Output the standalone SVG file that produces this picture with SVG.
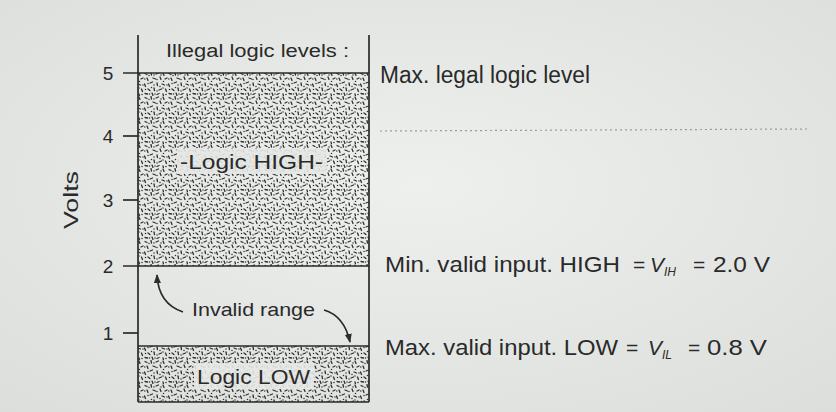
<svg xmlns="http://www.w3.org/2000/svg" width="836" height="412" viewBox="0 0 836 412">
<defs>
<radialGradient id="paper" cx="0.5" cy="0.45" r="0.75">
<stop offset="0" stop-color="#eef0ee"/>
<stop offset="1" stop-color="#dcdedc"/>
</radialGradient>
<pattern id="stip" width="24" height="24" patternUnits="userSpaceOnUse">
<g stroke="#2f2f2f" stroke-width="1.3" stroke-linecap="round">
<line x1="1" y1="1.5" x2="3" y2="2.5"/>
<line x1="7" y1="0.5" x2="7.5" y2="3"/>
<line x1="12" y1="2" x2="14.5" y2="1"/>
<line x1="19" y1="1" x2="20" y2="3.5"/>
<line x1="3" y1="6" x2="4" y2="8.5"/>
<line x1="9" y1="6" x2="11.5" y2="7"/>
<line x1="16" y1="5" x2="17" y2="7.5"/>
<line x1="21" y1="7" x2="23" y2="6"/>
<line x1="0.5" y1="12" x2="1.5" y2="14.5"/>
<line x1="6" y1="11" x2="8.5" y2="10"/>
<line x1="13" y1="11" x2="13.5" y2="13.5"/>
<line x1="18" y1="12" x2="20.5" y2="13"/>
<line x1="4" y1="17" x2="6" y2="18.5"/>
<line x1="10" y1="16" x2="10.5" y2="18.5"/>
<line x1="15" y1="18" x2="17.5" y2="17"/>
<line x1="21.5" y1="17" x2="22.5" y2="19.5"/>
<line x1="1" y1="21.5" x2="3.5" y2="22"/>
<line x1="8" y1="21" x2="9" y2="23.5"/>
<line x1="13" y1="22.5" x2="15" y2="21.5"/>
<line x1="19" y1="22" x2="19.5" y2="23.8"/>
</g>
<g fill="#2f2f2f">
<circle cx="5" cy="3.5" r="0.75"/>
<circle cx="10" cy="3" r="0.75"/>
<circle cx="17" cy="3" r="0.75"/>
<circle cx="0.8" cy="7" r="0.75"/>
<circle cx="13" cy="7.5" r="0.75"/>
<circle cx="19.5" cy="9.5" r="0.75"/>
<circle cx="4" cy="11.5" r="0.75"/>
<circle cx="10" cy="13" r="0.75"/>
<circle cx="16" cy="14.5" r="0.75"/>
<circle cx="23" cy="13" r="0.75"/>
<circle cx="1.5" cy="17.5" r="0.75"/>
<circle cx="7.5" cy="15.5" r="0.75"/>
<circle cx="13" cy="19" r="0.75"/>
<circle cx="19" cy="16" r="0.75"/>
<circle cx="5.5" cy="22" r="0.75"/>
<circle cx="11" cy="22" r="0.75"/>
<circle cx="22" cy="22.5" r="0.75"/>
</g>
</pattern>
<marker id="ah" viewBox="0 0 10 10" refX="9" refY="5" markerWidth="9" markerHeight="9" orient="auto" markerUnits="userSpaceOnUse">
<path d="M0,1 L10,5 L0,9 z" fill="#2e2e2e"/>
</marker>
<style>
.t{font-family:"Liberation Sans",Arial,sans-serif;fill:#2a2a2a;}
.ln{stroke:#2a2a2a;stroke-width:1.7;fill:none;}
</style>
</defs>
<rect width="836" height="412" fill="url(#paper)"/>

<g id="high-region">
<rect x="138" y="73" width="231" height="193" fill="url(#stip)"/>
<rect x="177" y="149" width="150" height="25" fill="#e6e8e6" opacity="0.9"/>
<text class="t" x="180" y="169" font-size="21" textLength="143" lengthAdjust="spacingAndGlyphs">-Logic HIGH-</text>
</g>

<g id="low-region">
<rect x="138" y="346" width="231" height="56" fill="url(#stip)"/>
<rect x="194" y="363" width="120" height="26" fill="#e6e8e6" opacity="0.9"/>
<text class="t" x="197" y="384" font-size="21" textLength="113" lengthAdjust="spacingAndGlyphs">Logic LOW</text>
</g>

<g id="illegal">
<text class="t" x="166" y="57" font-size="18" textLength="183" lengthAdjust="spacingAndGlyphs">Illegal logic levels :</text>
</g>

<g id="invalid">
<text class="t" x="192" y="316" font-size="19" textLength="123" lengthAdjust="spacingAndGlyphs">Invalid range</text>
</g>

<g id="frame">
<line class="ln" x1="138" y1="35" x2="138" y2="402"/>
<line class="ln" x1="369" y1="35" x2="369" y2="402"/>
<line class="ln" x1="123" y1="73" x2="369" y2="73"/>
<line class="ln" x1="123" y1="266" x2="369" y2="266"/>
<line class="ln" x1="138" y1="346" x2="369" y2="346"/>
<line class="ln" x1="138" y1="402" x2="369" y2="402"/>
<line class="ln" x1="123" y1="136" x2="138" y2="136"/>
<line class="ln" x1="123" y1="200" x2="138" y2="200"/>
<line class="ln" x1="123" y1="333" x2="138" y2="333"/>
</g>

<g id="axis">
<text class="t" x="108" y="80" font-size="19" text-anchor="middle">5</text>
<text class="t" x="108" y="143" font-size="19" text-anchor="middle">4</text>
<text class="t" x="108" y="207" font-size="19" text-anchor="middle">3</text>
<text class="t" x="108" y="273" font-size="19" text-anchor="middle">2</text>
<text class="t" x="108" y="340" font-size="19" text-anchor="middle">1</text>
<text class="t" x="0" y="0" font-size="20" text-anchor="middle" textLength="58" lengthAdjust="spacingAndGlyphs" transform="translate(78,200) rotate(-90)">Volts</text>
</g>

<g id="labels">
<text class="t" x="380" y="83" font-size="23" textLength="210" lengthAdjust="spacingAndGlyphs">Max. legal logic level</text>
<text class="t" x="385" y="272" font-size="22" textLength="235" lengthAdjust="spacingAndGlyphs">Min. valid input. HIGH</text>
<text class="t" x="633" y="272" font-size="21">=</text>
<text class="t" x="650" y="272" font-size="21" font-style="italic">V<tspan font-size="12" dy="4">IH</tspan></text>
<text class="t" x="693" y="272" font-size="21">=</text>
<text class="t" x="713" y="272" font-size="22" textLength="57" lengthAdjust="spacingAndGlyphs">2.0 V</text>
<text class="t" x="385" y="355" font-size="22" textLength="233" lengthAdjust="spacingAndGlyphs">Max. valid input. LOW</text>
<text class="t" x="626" y="355" font-size="21">=</text>
<text class="t" x="648" y="355" font-size="21" font-style="italic">V<tspan font-size="12" dy="4">IL</tspan></text>
<text class="t" x="688" y="355" font-size="21">=</text>
<text class="t" x="707" y="355" font-size="22" textLength="60" lengthAdjust="spacingAndGlyphs">0.8 V</text>
</g>

<g id="scan-noise" stroke="#9a9c9a" stroke-width="1.2" stroke-dasharray="2 3">
<line x1="380" y1="131" x2="810" y2="129"/>
</g>

<g id="connectors">
<path class="ln" d="M183,312 C168,307 158,296 157,275" marker-end="url(#ah)"/>
<path class="ln" d="M324,310 C338,314 346,324 350,342" marker-end="url(#ah)"/>
</g>
</svg>
